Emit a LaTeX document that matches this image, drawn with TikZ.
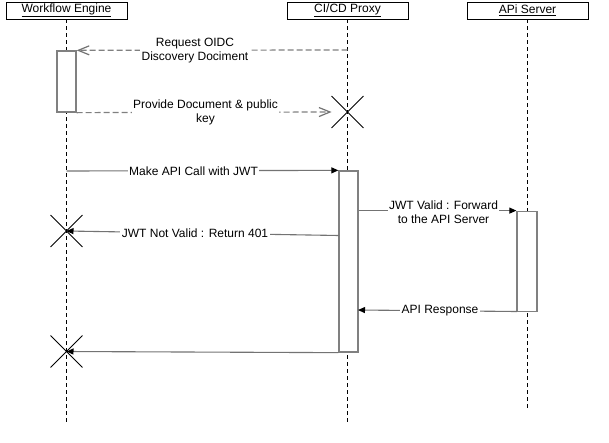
\documentclass[tikz,border=0pt]{standalone}
\usepackage{fontspec}
\setmainfont{Liberation Sans}
\usetikzlibrary{arrows.meta,shapes.misc}
\begin{document}
\begin{tikzpicture}[x=1pt,y=-1pt,
  head/.style={draw=black, line width=0.8pt, minimum width=121pt, minimum height=17pt, inner sep=0pt, font=\fontsize{12}{14}\selectfont},
  life/.style={draw=black, line width=0.8pt, dash pattern=on 4pt off 3pt},
  actbox/.style={draw=black!50, line width=1.3pt, fill=white, inner sep=0pt},
  msg/.style={draw=black!55, line width=1.1pt, -{Triangle[length=7pt,width=6pt,color=black,fill=black]}},
  ret/.style={draw=black!50, line width=1.2pt, dash pattern=on 6pt off 3pt, -{Straight Barb[length=11pt,width=9pt,color=black!55]}},
  lbl/.style={fill=white, inner sep=1.5pt, align=center, font=\fontsize{12}{14}\selectfont},
  xmark/.style={cross out, draw=black, line width=0.9pt, minimum size=31pt, inner sep=0pt}]
\useasboundingbox (0,0) rectangle (609,442);

% headers
\node[head] (hW) at (66.5,10.5) {\underline{Workflow Engine}};
\node[head] (hP) at (347.5,10.5) {\underline{CI/CD Proxy}};
\node[head] (hA) at (527.5,10.5) {\underline{APi Server}};

% lifeline ends
\coordinate (eW) at (66.5,422);
\coordinate (eP) at (347.5,422);
\coordinate (eA) at (527.5,408);
\draw[life] (hW.south) -- (eW);
\draw[life] (hP.south) -- (eP);
\draw[life] (hA.south) -- (eA);

% activations
\node[actbox, minimum width=19pt, minimum height=61pt] (aW) at (66.5,81.5) {};
\node[actbox, minimum width=19pt, minimum height=181pt] (aP) at (348.5,261.5) {};
\node[actbox, minimum width=20pt, minimum height=100.5pt] (aA) at (527,261.5) {};

% destruction marks
\node[xmark] (xP) at (347.5,112) {};
\node[xmark] (xW1) at (66.5,231) {};
\node[xmark] (xW2) at (66.5,351.5) {};

% helper points
\coordinate (m1s) at (347.5,50);
\coordinate (m3s) at (66.5,171);
\coordinate (m5s) at (339,235.5);
\coordinate (m6s) at (517,311.5);
\coordinate (m6e) at (358,310);

% messages
\draw[ret] (m1s) -- (aW.north east);
\draw[ret] (aW.south east) -- (xP.west);
\draw[msg] (m3s) -- (aP.north west);
\draw[msg] (aP.east |- aA.north) -- (aA.north west);
\draw[msg] (m5s) -- (xW1.center);
\draw[msg] (m6s) -- (m6e);
\draw[msg] (aP.south west) -- (xW2.center);

% labels
\node[lbl] (l1) at (195,51) {Request OIDC\\Discovery Dociment};
\node[lbl] (l2) at (205.5,112) {Provide Document \& public\\key};
\node[lbl] (l3) at (193.5,171) {Make API Call with JWT};
\node[lbl] (l4) at (443.5,212) {JWT Valid : Forward\\to the API Server};
\node[lbl] (l5) at (195,233.5) {JWT Not Valid : Return 401};
\node[lbl] (l6) at (440,310.5) {API Response};
\end{tikzpicture}
\end{document}
